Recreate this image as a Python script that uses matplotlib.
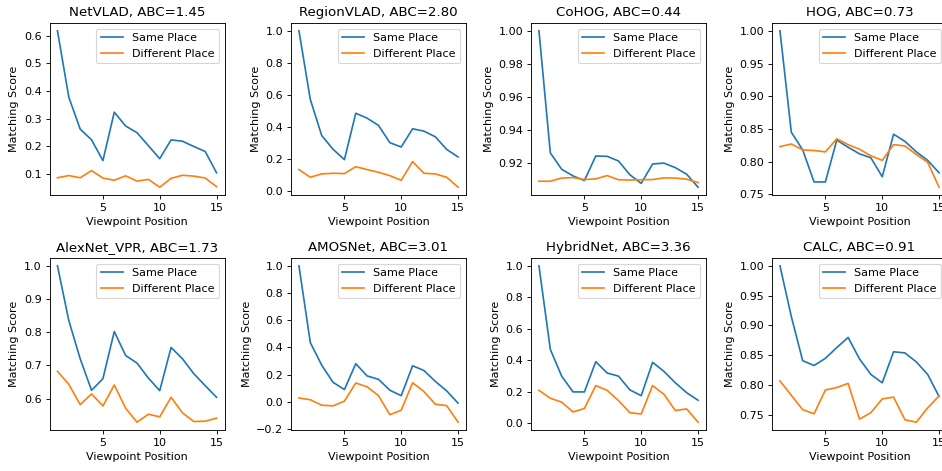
import matplotlib
matplotlib.use("Agg")
import matplotlib.pyplot as plt

positions = list(range(1, 16))

methods = ["NetVLAD", "RegionVLAD", "CoHOG", "HOG",
           "AlexNet_VPR", "AMOSNet", "HybridNet", "CALC"]
abc_values = [1.45, 2.80, 0.44, 0.73, 1.73, 3.01, 3.36, 0.91]

netvlad_same = [0.618, 0.378, 0.263, 0.224, 0.149, 0.324, 0.274, 0.250,
                0.203, 0.156, 0.224, 0.219, 0.200, 0.182, 0.105]
netvlad_diff = [0.087, 0.095, 0.087, 0.113, 0.086, 0.078, 0.094, 0.075,
                0.081, 0.053, 0.085, 0.096, 0.093, 0.086, 0.055]

regionvlad_same = [1.000, 0.571, 0.346, 0.260, 0.195, 0.485, 0.454, 0.409,
                   0.301, 0.274, 0.388, 0.373, 0.338, 0.259, 0.212]
regionvlad_diff = [0.133, 0.085, 0.106, 0.110, 0.108, 0.151, 0.133, 0.116,
                   0.095, 0.066, 0.183, 0.110, 0.106, 0.085, 0.023]

cohog_same = [1.000, 0.9264, 0.9165, 0.9125, 0.9097, 0.9245, 0.9243, 0.9215,
              0.9132, 0.9080, 0.9197, 0.9202, 0.9175, 0.9135, 0.9057]
cohog_diff = [0.9093, 0.9093, 0.9112, 0.9115, 0.9103, 0.9107, 0.9127, 0.9102,
              0.9100, 0.9102, 0.9103, 0.9113, 0.9112, 0.9105, 0.9085]

hog_same = [1.000, 0.845, 0.818, 0.769, 0.769, 0.833, 0.822, 0.812,
            0.806, 0.777, 0.842, 0.831, 0.815, 0.802, 0.783]
hog_diff = [0.823, 0.827, 0.818, 0.817, 0.815, 0.835, 0.826, 0.819,
            0.809, 0.802, 0.826, 0.824, 0.811, 0.799, 0.761]

alexnet_same = [1.000, 0.835, 0.720, 0.625, 0.660, 0.802, 0.730, 0.707,
                0.662, 0.624, 0.754, 0.720, 0.675, 0.639, 0.604]
alexnet_diff = [0.682, 0.643, 0.582, 0.614, 0.578, 0.641, 0.571, 0.529,
                0.553, 0.545, 0.604, 0.557, 0.531, 0.532, 0.541]

amosnet_same = [1.000, 0.435, 0.270, 0.143, 0.090, 0.280, 0.190, 0.165,
                0.085, 0.045, 0.265, 0.230, 0.150, 0.080, -0.010]
amosnet_diff = [0.028, 0.015, -0.025, -0.030, 0.005, 0.138, 0.110, 0.045,
                -0.095, -0.062, 0.140, 0.075, -0.018, -0.028, -0.150]

hybridnet_same = [1.000, 0.470, 0.300, 0.200, 0.200, 0.392, 0.320, 0.300,
                  0.213, 0.176, 0.388, 0.330, 0.258, 0.195, 0.147]
hybridnet_diff = [0.210, 0.160, 0.135, 0.073, 0.095, 0.240, 0.210, 0.145,
                  0.068, 0.060, 0.240, 0.185, 0.082, 0.092, 0.008]

calc_same = [1.000, 0.915, 0.841, 0.833, 0.845, 0.863, 0.880, 0.844,
             0.818, 0.804, 0.856, 0.854, 0.839, 0.818, 0.781]
calc_diff = [0.807, 0.783, 0.759, 0.752, 0.792, 0.796, 0.803, 0.743,
             0.754, 0.777, 0.780, 0.742, 0.738, 0.762, 0.782]

same_scores = [netvlad_same, regionvlad_same, cohog_same, hog_same,
               alexnet_same, amosnet_same, hybridnet_same, calc_same]
diff_scores = [netvlad_diff, regionvlad_diff, cohog_diff, hog_diff,
               alexnet_diff, amosnet_diff, hybridnet_diff, calc_diff]

W, H = 942, 471
DPI = 80.6
fig = plt.figure(figsize=(W / DPI, H / DPI), dpi=DPI)

col_left = [49.5, 291, 531, 772]
row_top = [23, 258]
ax_w, ax_h = 175, 172

for i, name in enumerate(methods):
    r, c = divmod(i, 4)
    left = col_left[c] / W
    bottom = (H - row_top[r] - ax_h) / H
    ax = fig.add_axes([left, bottom, ax_w / W, ax_h / H])
    ax.plot(positions, same_scores[i], color="#1f77b4", label="Same Place")
    ax.plot(positions, diff_scores[i], color="#ff7f0e", label="Different Place")
    ax.set_title(f"{name}, ABC={abc_values[i]:.2f}")
    ax.set_xlabel("Viewpoint Position")
    ax.set_ylabel("Matching Score")
    ax.set_xticks([5, 10, 15])
    ax.legend(loc="upper right")

fig.savefig("out.png", dpi=DPI)
